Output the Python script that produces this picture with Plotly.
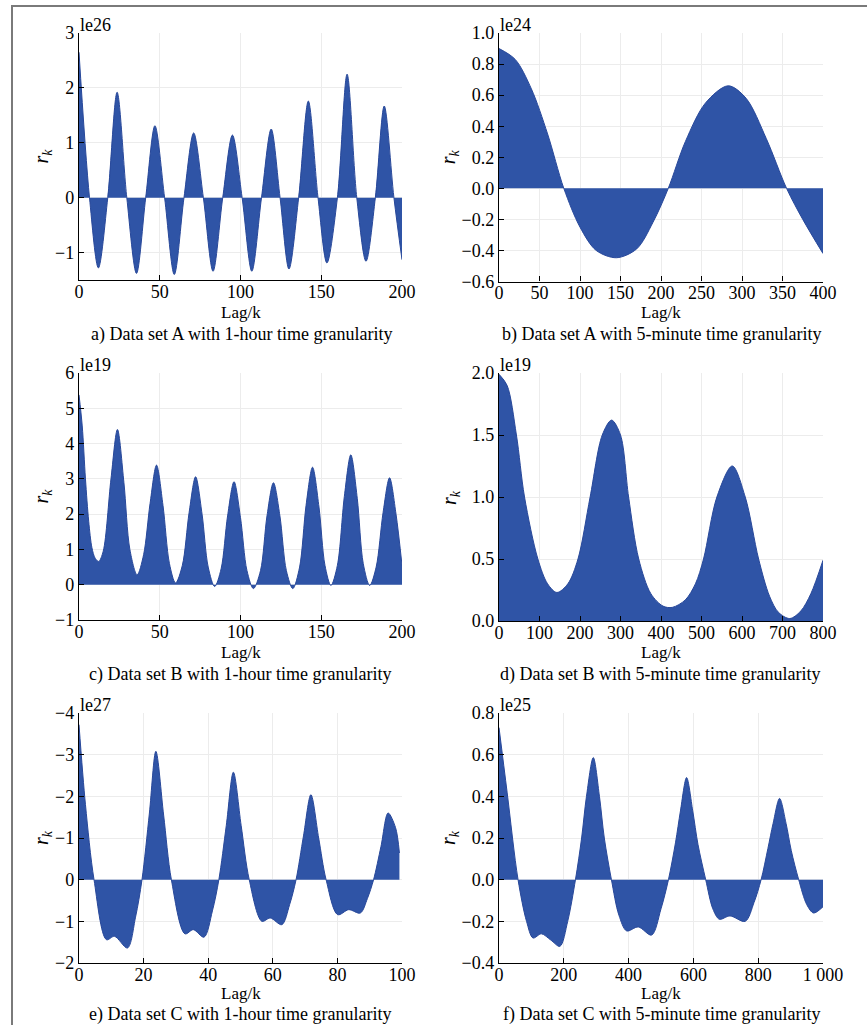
import plotly.graph_objects as go

W, H = 867, 1025

# ---------------- data ----------------
# a) Data set A, 1-hour granularity  (x1e26)
lag_a = [0, 6.5, 12, 17.8, 23.6, 29.6, 35.6, 41.3, 47, 53, 59, 65, 71, 77, 83, 89, 95, 101,
         107, 113, 119, 124.5, 130, 136, 142, 148, 153.5, 160, 166, 172, 177.7, 183.5, 189, 195, 200]
r_a = [2.65, 0, -1.28, 0, 1.92, 0, -1.38, 0, 1.31, 0, -1.40, 0, 1.18, 0, -1.34, 0, 1.14, 0,
       -1.34, 0, 1.25, 0, -1.30, 0, 1.76, 0, -1.19, 0, 2.25, 0, -1.16, 0, 1.67, 0, -1.13]

# b) Data set A, 5-minute granularity  (x1e24)
lag_b = [0, 20, 40, 60, 80, 100, 120, 145, 170, 190, 209, 230, 255, 283, 305, 330, 355, 375, 400]
r_b = [0.90, 0.83, 0.64, 0.35, 0.0, -0.25, -0.40, -0.447, -0.39, -0.22, 0.0, 0.30, 0.55, 0.66,
       0.58, 0.32, 0.0, -0.20, -0.42]

# c) Data set B, 1-hour granularity  (x1e19)
lag_c = [0, 2, 4, 6, 8, 10, 12.2, 15, 19.8, 23.8, 27.8, 31.5, 36, 40, 44, 48, 52, 56, 59.8,
         64, 68.2, 72.2, 76.2, 80, 84, 88, 92, 96, 100, 104, 108, 112.4, 116.4, 120.4, 124.4,
         128.4, 132.4, 136.6, 140.6, 144.6, 148.6, 152.3, 156, 160, 164.3, 168.3, 172.3, 176,
         180, 184, 188.3, 192.3, 196.3, 200]
r_c = [5.38, 4.5, 3.0, 1.8, 1.05, 0.75, 0.66, 0.95, 3.0, 4.4, 2.9, 1.0, 0.28, 0.85, 2.3, 3.39,
       2.25, 0.6, 0.05, 0.55, 2.05, 3.06, 2.0, 0.5, -0.05, 0.45, 1.95, 2.92, 1.9, 0.4, -0.11,
       0.4, 1.95, 2.89, 1.95, 0.4, -0.11, 0.5, 2.25, 3.33, 2.2, 0.55, -0.02, 0.55, 2.5, 3.68,
       2.45, 0.6, -0.02, 0.5, 2.05, 3.03, 2.0, 0.55]

# d) Data set B, 5-minute granularity  (x1e19)
lag_d = [0, 20, 43, 63, 96, 120, 143, 170, 195, 225, 255, 278, 300, 320, 345, 375, 405, 428,
         460, 485, 505, 538, 576, 608, 641, 668, 690, 718, 745, 770, 800]
r_d = [1.99, 1.9, 1.5, 1.0, 0.5, 0.3, 0.23, 0.3, 0.5, 1.0, 1.5, 1.62, 1.5, 1.0, 0.5, 0.22,
       0.12, 0.11, 0.17, 0.3, 0.5, 1.0, 1.25, 1.0, 0.5, 0.2, 0.07, 0.02, 0.08, 0.22, 0.49]

# e) Data set C, 1-hour granularity  (x1e27)
lag_e = [0, 2, 4.65, 8.5, 11, 15, 17.5, 19.5, 21.8, 23.8, 26.2, 28.6, 32.8, 35.4, 38.7, 41.3,
         43.3, 45.6, 47.8, 50.2, 52.7, 56.6, 59.2, 62.8, 65.2, 67.2, 69.5, 71.8, 74.2, 76.5,
         80.1, 83.5, 87.1, 89.3, 91.2, 93.5, 95.7, 98, 99.2]
r_e = [3.72, 1.8, 0, -1.44, -1.36, -1.64, -0.9, 0, 1.6, 3.08, 1.55, 0, -1.30, -1.2, -1.38,
       -0.75, 0, 1.3, 2.58, 1.3, 0, -1.0, -0.92, -1.08, -0.6, 0, 1.05, 2.04, 1.0, 0, -0.84,
       -0.72, -0.8, -0.45, 0, 0.8, 1.6, 1.25, 0.64]

# f) Data set C, 5-minute granularity  (x1e25)
lag_f = [0, 25, 58.8, 85, 105, 131, 160, 188, 212, 236, 255, 270, 291, 310, 325, 347, 370, 394,
         430, 471, 500, 523, 545, 560, 579, 598, 614, 638, 660, 680, 713, 760, 787, 809, 830,
         846, 866, 886, 902, 925, 950, 971, 1000]
r_f = [0.73, 0.42, 0, -0.2, -0.28, -0.26, -0.29, -0.32, -0.2, 0, 0.2, 0.4, 0.586, 0.4, 0.2, 0,
       -0.17, -0.246, -0.227, -0.266, -0.14, 0, 0.18, 0.33, 0.49, 0.33, 0.17, 0, -0.14, -0.19,
       -0.174, -0.2, -0.11, 0, 0.15, 0.27, 0.39, 0.27, 0.14, 0, -0.12, -0.16, -0.13]

# tick labels
yt_a = [-1, 0, 1, 2, 3]
yl_a = ["−1", "0", "1", "2", "3"]
yt_b = [-0.6, -0.4, -0.2, 0.0, 0.2, 0.4, 0.6, 0.8, 1.0]
yl_b = ["−0.6", "−0.4", "−0.2", "0.0", "0.2", "0.4", "0.6", "0.8", "1.0"]
yt_c = [-1, 0, 1, 2, 3, 4, 5, 6]
yl_c = ["−1", "0", "1", "2", "3", "4", "5", "6"]
yt_d = [0.0, 0.5, 1.0, 1.5, 2.0]
yl_d = ["0.0", "0.5", "1.0", "1.5", "2.0"]
yt_e = [-2, -1, 0, 1, 2, 3, 4]
yl_e = ["−2", "−1", "0", "−1", "−2", "−3", "−4"]
yt_f = [-0.4, -0.2, 0.0, 0.2, 0.4, 0.6, 0.8]
yl_f = ["−0.4", "−0.2", "0.0", "0.2", "0.4", "0.6", "0.8"]

xt_a = [0, 50, 100, 150, 200]
xt_b = [0, 50, 100, 150, 200, 250, 300, 350, 400]
xt_d = [0, 100, 200, 300, 400, 500, 600, 700, 800]
xt_e = [0, 20, 40, 60, 80, 100]
xt_f = [0, 200, 400, 600, 800, 1000]
xl_f = ["0", "200", "400", "600", "800", "1 000"]

exponents = ["le26", "le24", "le19", "le19", "le27", "le25"]
captions = [
    "a) Data set A with 1-hour time granularity",
    "b) Data set A with 5-minute time granularity",
    "c) Data set B with 1-hour time granularity",
    "d) Data set B with 5-minute time granularity",
    "e) Data set C with 1-hour time granularity",
    "f) Data set C with 5-minute time granularity",
]
x_title = "Lag/k"
y_title = "<i>r<sub>k</sub></i>"

# ---------------- layout (pixel geometry) ----------------
FONT = "Liberation Serif"
FILL = "#2f54a6"
EDGE = "#28489a"

panels = [
    (lag_a, r_a, [0, 200], [-1.5, 3], xt_a, [str(v) for v in xt_a], yt_a, yl_a, (79, 402), (33, 280)),
    (lag_b, r_b, [0, 400], [-0.6, 1.0], xt_b, [str(v) for v in xt_b], yt_b, yl_b, (499, 823), (33, 281.5)),
    (lag_c, r_c, [0, 200], [-1, 6], xt_a, [str(v) for v in xt_a], yt_c, yl_c, (79, 402), (373, 620)),
    (lag_d, r_d, [0, 800], [0, 2.0], xt_d, [str(v) for v in xt_d], yt_d, yl_d, (499, 823), (373, 621)),
    (lag_e, r_e, [0, 100], [-2, 4], xt_e, [str(v) for v in xt_e], yt_e, yl_e, (79, 402), (713, 963)),
    (lag_f, r_f, [0, 1000], [-0.4, 0.8], xt_f, xl_f, yt_f, yl_f, (499, 823), (713, 963)),
]

xtitle_y = [312, 312, 652, 652, 993, 993]
caption_y = [334, 334, 674, 674, 1014, 1014]
caption_x = [241, 661, 240, 660, 240, 661]
ytitle_x = [42, 449, 42, 450, 42, 449]


def px_x(p):
    return p / W


def px_y(p):
    return 1 - p / H


fig = go.Figure()
annotations = []
layout = {}

for i, (xs, ys, xr, yr, xtv, xtl, ytv, ytl, xp, yp) in enumerate(panels):
    n = "" if i == 0 else str(i + 1)
    fig.add_trace(go.Scatter(
        x=xs, y=ys, mode="lines", fill="tozeroy",
        line=dict(color=EDGE, width=1, shape="spline", smoothing=0.9),
        fillcolor=FILL, xaxis="x" + n, yaxis="y" + n, showlegend=False,
        hoverinfo="skip",
    ))
    common = dict(
        showline=True, linecolor="black", linewidth=1.3, mirror=False,
        ticks="inside", ticklen=5, tickwidth=1, tickcolor="black",
        showgrid=True, gridcolor="#ececec", gridwidth=1.2, zeroline=False,
        tickfont=dict(family=FONT, size=18, color="black"),
        tickmode="array", automargin=False,
    )
    layout["xaxis" + n] = dict(common, domain=[px_x(xp[0]), px_x(xp[1])], range=xr,
                               tickvals=xtv, ticktext=xtl, anchor="y" + n,
                               ticklabelstandoff=-5)
    layout["yaxis" + n] = dict(common, domain=[px_y(yp[1]), px_y(yp[0])], range=yr,
                               tickvals=ytv, ticktext=ytl, anchor="x" + n)
    xc = (xp[0] + xp[1]) / 2
    yc = (yp[0] + yp[1]) / 2
    annotations.append(dict(text=exponents[i], x=px_x(xp[0] - 1), y=px_y(yp[0] - 8),
                            xref="paper", yref="paper", xanchor="left", yanchor="middle",
                            showarrow=False, font=dict(family=FONT, size=18, color="black")))
    annotations.append(dict(text=x_title, x=px_x(xc), y=px_y(xtitle_y[i]),
                            xref="paper", yref="paper", xanchor="center", yanchor="middle",
                            showarrow=False, font=dict(family=FONT, size=17, color="black")))
    annotations.append(dict(text=captions[i], x=px_x(caption_x[i]), y=px_y(caption_y[i]),
                            xref="paper", yref="paper", xanchor="center", yanchor="middle",
                            showarrow=False, font=dict(family=FONT, size=18, color="black")))
    annotations.append(dict(text=y_title, x=px_x(ytitle_x[i]), y=px_y(yc), textangle=-90,
                            xref="paper", yref="paper", xanchor="center", yanchor="middle",
                            showarrow=False, font=dict(family=FONT, size=20, color="black")))

shapes = [
    dict(type="line", xref="paper", yref="paper", x0=px_x(12), x1=px_x(12), y0=px_y(5), y1=0,
         line=dict(color="#7a7a7a", width=2)),
    dict(type="line", xref="paper", yref="paper", x0=px_x(12), x1=1, y0=px_y(6), y1=px_y(6),
         line=dict(color="#7a7a7a", width=2)),
]

fig.update_layout(
    width=W, height=H, margin=dict(l=0, r=0, t=0, b=0, pad=0), autosize=False,
    paper_bgcolor="white", plot_bgcolor="white",
    annotations=annotations, shapes=shapes, showlegend=False,
    font=dict(family=FONT, color="black"),
    **layout,
)

fig.write_html(
    "out.html",
    config={"displayModeBar": False},
    post_script="document.body.style.margin='0';document.body.style.overflow='hidden';",
)
